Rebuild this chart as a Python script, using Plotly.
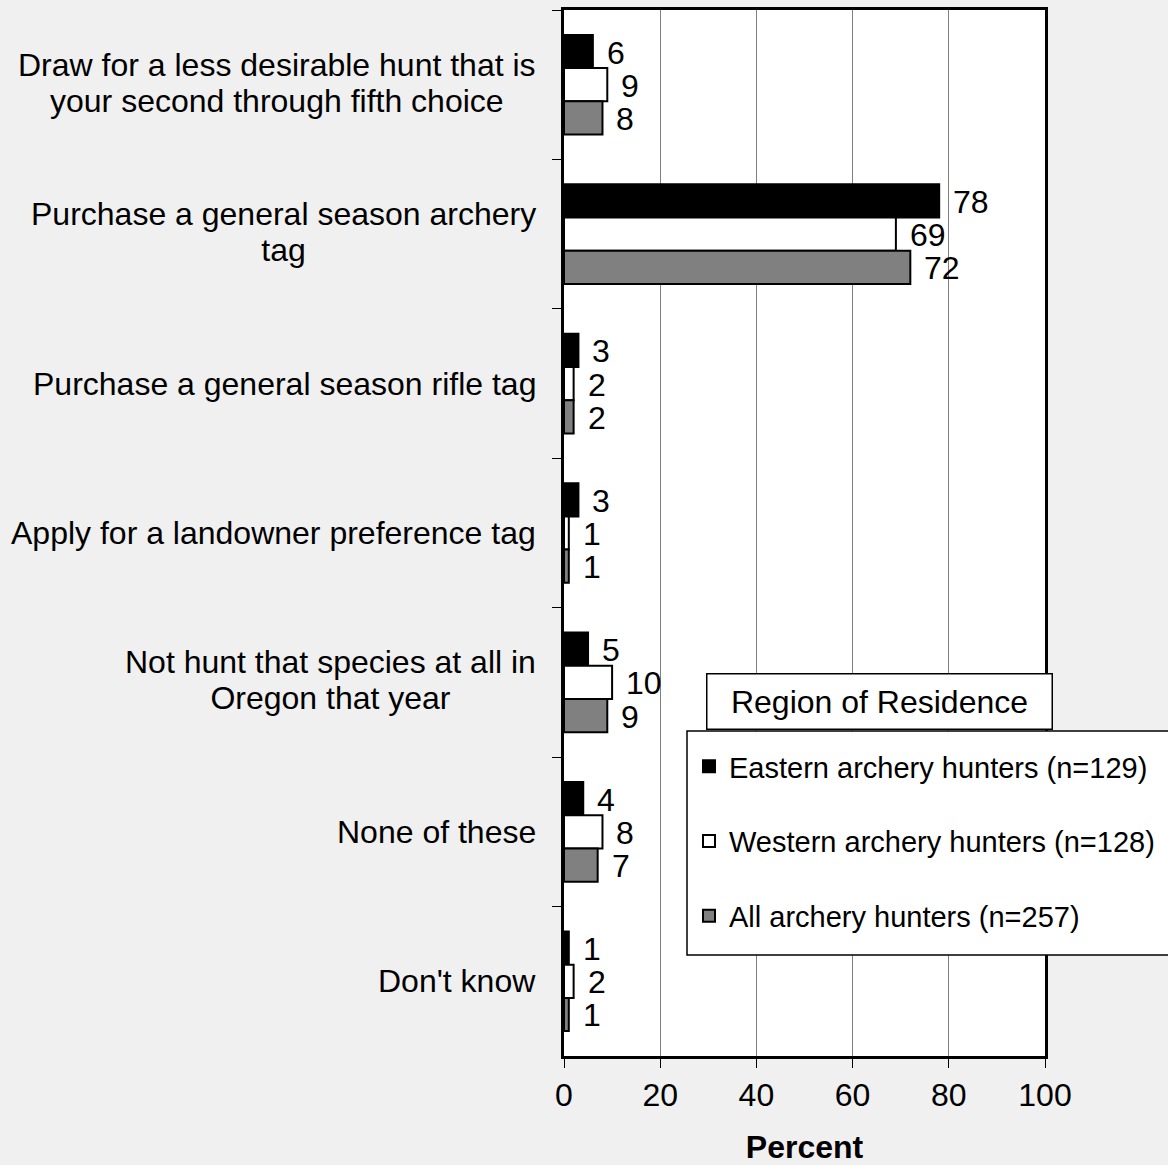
import plotly.graph_objects as go

# Survey responses: what archery hunters would do if they did not draw their first-choice hunt
categories = [
    "Draw for a less desirable hunt that is<br>your second through fifth choice",
    "Purchase a general season archery<br>tag",
    "Purchase a general season rifle tag",
    "Apply for a landowner preference tag",
    "Not hunt that species at all in<br>Oregon that year",
    "None of these",
    "Don't know",
]
eastern = [6, 78, 3, 3, 5, 4, 1]
western = [9, 69, 2, 1, 10, 8, 2]
all_hunters = [8, 72, 2, 1, 9, 7, 1]

series_names = [
    "Eastern archery hunters (n=129)",
    "Western archery hunters (n=128)",
    "All archery hunters (n=257)",
]
series_values = [eastern, western, all_hunters]
fill_colors = ["#000000", "#ffffff", "#808080"]

x_ticks = [0, 20, 40, 60, 80, 100]
x_title = "Percent"
legend_title = "Region of Residence"

FONT = "Liberation Sans, Arial, sans-serif"
W, H = 1168, 1165
M_L, M_R, M_T, M_B = 564, 123, 10, 109
PLOT_W = W - M_L - M_R
PLOT_H = H - M_T - M_B
BAND = PLOT_H / len(categories)
BAR_H = BAND * (2 / 3) / 3
LABEL_SIZE = 32
LINE_GAP = 36  # spacing between lines of a two-line category label


def px_x(px):
    """Horizontal pixel position -> paper fraction."""
    return (px - M_L) / PLOT_W


def px_y(py):
    """Vertical pixel position (from top) -> paper fraction."""
    return 1 - (py - M_T) / PLOT_H


fig = go.Figure()
for i, (name, vals, color) in enumerate(zip(series_names, series_values, fill_colors)):
    fig.add_trace(go.Bar(
        y=categories,
        x=vals,
        name=name,
        orientation="h",
        marker=dict(color=color, line=dict(color="#000000", width=2)),
        legendgroup=f"g{i}",
        hoverinfo="x+name",
    ))

# value labels to the right of each bar
offsets = [BAR_H, 0, -BAR_H]
for vals, dy in zip(series_values, offsets):
    for cat, v in zip(categories, vals):
        fig.add_annotation(
            x=v, y=cat, xref="x", yref="y",
            text=str(v), showarrow=False,
            xanchor="left", yanchor="middle",
            xshift=12, yshift=dy - 1,
            font=dict(family=FONT, size=32, color="#000000"),
        )

# category labels: lines centred on each other, block right-aligned at the axis.
# The line advance is 1.3em of the outer font size, so the outer size sets the
# line gap while each line is rendered at the label size.
for cat in categories:
    lines = cat.split("<br>")
    text = "<br>".join(f"<span style='font-size:{LABEL_SIZE}px'>{ln}</span>" for ln in lines)
    fig.add_annotation(
        x=0, y=cat, xref="paper", yref="y",
        text=text, showarrow=False,
        xanchor="right", yanchor="middle", align="center",
        xshift=-26, yshift=2 if len(lines) > 1 else 0,
        font=dict(family=FONT, size=LINE_GAP / 1.3, color="#000000"),
    )

# legend frame
fig.add_shape(
    type="rect", xref="paper", yref="paper",
    x0=px_x(687), x1=px_x(1180), y0=px_y(955), y1=px_y(731),
    fillcolor="#ffffff", line=dict(color="#000000", width=1.5),
    layer="above",
)

# legend heading box
fig.add_annotation(
    x=px_x(879), y=px_y(701),
    xref="paper", yref="paper",
    text=legend_title, showarrow=False,
    xanchor="center", yanchor="middle",
    width=340, height=50,
    bgcolor="#ffffff", bordercolor="#000000", borderwidth=1.5, borderpad=2,
    font=dict(family=FONT, size=32, color="#000000"),
)

fig.update_layout(
    width=W, height=H,
    margin=dict(l=M_L, r=M_R, t=M_T, b=M_B, autoexpand=False),
    paper_bgcolor="#f0f0f0",
    plot_bgcolor="#ffffff",
    barmode="group",
    bargap=1 / 3,
    bargroupgap=0,
    font=dict(family=FONT, size=32, color="#000000"),
    showlegend=True,
    legend=dict(
        x=px_x(689), y=px_y(741),
        xanchor="left", yanchor="top",
        bgcolor="rgba(0,0,0,0)", borderwidth=0,
        font=dict(family=FONT, size=29, color="#000000"),
        tracegroupgap=34,
        traceorder="grouped",
    ),
    xaxis=dict(
        range=[0, 100],
        tickvals=x_ticks,
        ticks="outside", ticklen=9, tickwidth=1, tickcolor="#000000",
        showgrid=True, gridcolor="#808080", gridwidth=1.3,
        showline=True, linecolor="#000000", linewidth=2.5, mirror=True,
        zeroline=False,
        tickfont=dict(family=FONT, size=32),
        title=dict(text=f"<b>{x_title}</b>", font=dict(family=FONT, size=32), standoff=34),
        fixedrange=True,
    ),
    yaxis=dict(
        autorange="reversed",
        type="category",
        tickson="boundaries",
        ticks="outside", ticklen=9, tickwidth=1, tickcolor="#000000",
        showticklabels=False,
        showgrid=False,
        showline=True, linecolor="#000000", linewidth=2.5, mirror=True,
        fixedrange=True,
    ),
)

fig.write_html("out.html")
